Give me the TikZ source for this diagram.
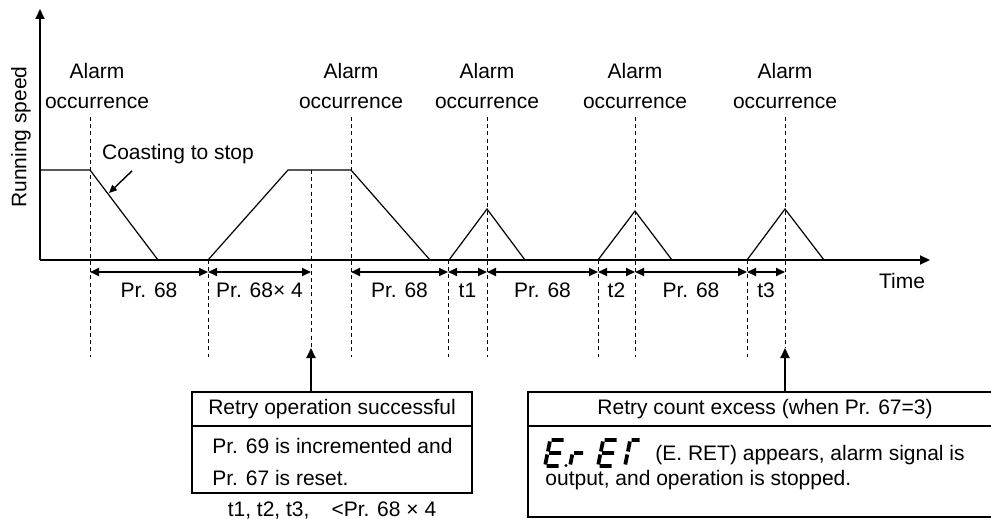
\documentclass[tikz,border=0pt]{standalone}
\usepackage{fontspec}
\setmainfont{Liberation Sans}
\usetikzlibrary{arrows.meta, positioning}

\begin{document}
\begin{tikzpicture}[
    x=0.5pt, y=-0.5pt,
    font=\fontsize{10.5}{15}\selectfont,
    axis/.style={line width=1pt, -{Triangle[length=5pt, width=4.5pt]}},
    wave/.style={line width=0.6pt},
    guide/.style={line width=0.5pt, dash pattern=on 2pt off 1.6pt},
    dimarr/.style={line width=0.9pt, {Triangle[length=4.5pt, width=4pt]}-{Triangle[length=4.5pt, width=4pt]}},
    dimlbl/.style={midway, below=1.7pt},
    alarm/.style={align=center},
    boxhead/.style={draw, line width=1pt, minimum height=17pt, inner sep=0pt, outer sep=0pt},
    boxbody/.style={draw, line width=1pt, inner sep=0pt, outer sep=0pt},
    boxtext/.style={anchor=north west, inner sep=0pt, align=left},
    arr/.style={-{Triangle[length=5pt, width=4.5pt]}, line width=1pt},
    thinarr/.style={-{Triangle[length=4pt, width=3.5pt]}, line width=0.7pt},
    seg/.style={line width=1.9pt},
]
    \useasboundingbox (0,0) rectangle (991,519);

    % speed curve
    \draw[wave] (40,170) -- (90,170) -- (158,260) -- (208,260) -- (288,170) -- (351,170) -- (430,260);
    \draw[wave] (449,260) -- (487,209) -- (525,260);
    \draw[wave] (598,260) -- (635,211) -- (672,260);
    \draw[wave] (747,260) -- (785,209) -- (824,260);

    % axes
    \coordinate (origin) at (40,260);
    \coordinate (ytop) at (40,9);
    \coordinate (xend) at (930,260);
    \draw[axis] (origin) -- (ytop);
    \draw[axis] (origin) -- (xend);
    \node[rotate=90] (ylabel) at (21,137) {Running speed};
    \node (xlabel) at (902,281) {Time};

    % guide lines
    \foreach \x/\ya/\yb in {90/117/357, 208/260/357, 311/170/348, 351/117/357, 448/260/357,
                            487/117/357, 598/260/357, 635/117/357, 747/260/357, 785/117/348}
        \draw[guide] (\x,\ya) -- (\x,\yb);

    \foreach \x [count=\i] in {97,351,487,635,785}
        \node[alarm] (alarm\i) at (\x,86) {Alarm\\occurrence};

    \node (coast) at (178,154) {Coasting to stop};
    \coordinate (coasttip) at (109,193);
    \draw[thinarr] ([xshift=18.5pt]coast.south west) -- (coasttip);

    % intervals
    \foreach \n/\x in {a/90, b/208, c/311, d/351, e/448, f/487, g/598, h/635, i/747, j/785}
        \coordinate (m\n) at (\x,272);
    \draw[dimarr] (ma) -- node[dimlbl] {Pr. 68} (mb);
    \draw[dimarr] (mb) -- node[dimlbl] {Pr. 68× 4} (mc);
    \draw[dimarr] (md) -- node[dimlbl] {Pr. 68} (me);
    \draw[dimarr] (me) -- node[dimlbl] {t1} (mf);
    \draw[dimarr] (mf) -- node[dimlbl] {Pr. 68} (mg);
    \draw[dimarr] (mg) -- node[dimlbl] {t2} (mh);
    \draw[dimarr] (mh) -- node[dimlbl] {Pr. 68} (mi);
    \draw[dimarr] (mi) -- node[dimlbl] {t3} (mj);

    % retry successful
    \node[boxhead, minimum width=140pt, anchor=north west] (okhead) at (192,392) {Retry operation successful};
    \node[boxbody, below=0pt of okhead, minimum width=140pt, minimum height=33.5pt] (okbody) {};
    \node[boxtext, font=\fontsize{10.5}{16}\selectfont] (oktext) at ([xshift=10pt, yshift=-5.75pt]okbody.north west)
        {Pr. 69 is incremented and\\Pr. 67 is reset.};
    \node[anchor=north, inner sep=0pt] (oknote) at ([yshift=-4pt]okbody.south) {t1, t2, t3,\hspace{11pt}<Pr. 68 × 4};
    \coordinate (okmark) at (311,348);
    \draw[arr] (okhead.north -| okmark) -- (okmark);

    % retry count excess
    \node[boxhead, minimum width=237pt, anchor=north west] (exchead) at (528,392) {Retry count excess (when Pr. 67=3)};
    \node[boxbody, below=0pt of exchead, minimum width=237pt, minimum height=45.5pt] (excbody) {};
    \node[boxtext, font=\fontsize{10.5}{12.5}\selectfont] (exctext) at ([xshift=8.5pt, yshift=-9.6pt]excbody.north west)
        {\hspace*{55pt}(E. RET) appears, alarm signal is\\output, and operation is stopped.};
    \coordinate (excmark) at (785,348);
    \draw[arr] (exchead.north -| excmark) -- (excmark);

    % E.rET display
    \begin{scope}[shift={(545,466)}]
        \draw[seg] (6.7,-26) -- (18.7,-26) (4.1,-13) -- (16.1,-13) (1.5,0) -- (13.5,0)
                   (4.9,-24.5) -- (2.9,-14.5) (2.3,-11.5) -- (0.3,-1.5);
        \fill (21,-0.5) circle (1.7);
    \end{scope}
    \begin{scope}[shift={(570,466)}]
        \draw[seg] (4.1,-13) -- (13.1,-13) (2.3,-11.5) -- (0.3,-1.5);
    \end{scope}
    \begin{scope}[shift={(598,466)}]
        \draw[seg] (6.7,-26) -- (18.7,-26) (4.1,-13) -- (16.1,-13) (1.5,0) -- (13.5,0)
                   (4.9,-24.5) -- (2.9,-14.5) (2.3,-11.5) -- (0.3,-1.5);
    \end{scope}
    \begin{scope}[shift={(625,466)}]
        \draw[seg] (6.7,-26) -- (14.7,-26) (4.9,-24.5) -- (2.9,-14.5) (2.3,-11.5) -- (0.3,-1.5);
    \end{scope}
\end{tikzpicture}
\end{document}
